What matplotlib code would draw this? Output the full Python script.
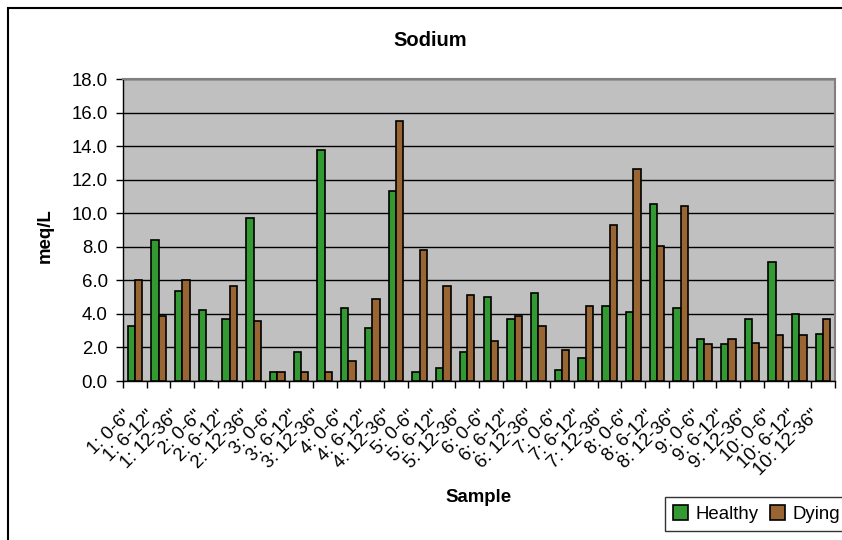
import matplotlib.pyplot as plt
import matplotlib.patches as mpatches
from matplotlib.transforms import ScaledTranslation
import numpy as np

plt.rcParams['font.family'] = ['Liberation Sans', 'DejaVu Sans']

# data
plots = ['1', '2', '3', '4', '5', '6', '7', '8', '9', '10']
depths = ['0-6"', '6-12"', '12-36"']
labels = [f'{p}: {d}' for p in plots for d in depths]

healthy = [3.26, 8.39, 5.34, 4.25, 3.70, 9.69, 0.53, 1.74, 13.75, 4.35,
           3.17, 11.34, 0.53, 0.75, 1.74, 5.00, 3.70, 5.22, 0.63, 1.40,
           4.47, 4.13, 10.56, 4.35, 2.51, 2.18, 3.70, 7.10, 4.02, 2.83]
dying = [6.01, 3.90, 6.01, 0.0, 5.68, 3.58, 0.53, 0.53, 0.53, 1.19,
         4.91, 15.47, 7.83, 5.68, 5.12, 2.39, 3.90, 3.26, 1.84, 4.47,
         9.28, 12.66, 8.05, 10.46, 2.18, 2.51, 2.27, 2.73, 2.73, 3.70]

green = '#339933'
brown = '#996633'
fs = 13.4

fig = plt.figure(figsize=(8.42, 5.4), dpi=100)
ax = fig.add_axes([123/842, 1 - 381/540, (835 - 123)/842, (381 - 79)/540])
ax.set_facecolor('#c0c0c0')

x = np.arange(len(labels))
w = 0.31
ax.bar(x - w/2, healthy, w, color=green, edgecolor='black', linewidth=1.2, label='Healthy', zorder=3)
ax.bar(x + w/2, dying, w, color=brown, edgecolor='black', linewidth=1.2, label='Dying', zorder=3)

ax.set_xlim(-0.5, len(labels) - 0.5)
ax.set_ylim(0, 18)
yt = np.arange(0, 18.1, 2)
ax.set_yticks(yt)
ax.set_yticklabels([f'{v:.1f}' for v in yt], fontsize=fs)
ax.yaxis.grid(True, color='black', linewidth=1, zorder=1)

ax.set_xticks(x)
ax.set_xticklabels(labels, rotation=45, ha='right', va='top', rotation_mode='anchor', fontsize=fs)
ax.tick_params(axis='x', length=0, pad=0)
shift = ScaledTranslation(-0.12, -0.26, fig.dpi_scale_trans)
for lab in ax.get_xticklabels():
    lab.set_transform(lab.get_transform() + shift)
ax.set_xticks(np.arange(-0.5, len(labels), 1), minor=True)
ax.tick_params(axis='x', which='minor', length=5, width=1, direction='out')
ax.tick_params(axis='y', length=5, width=1, direction='out', pad=6)

for s in ['top', 'right']:
    ax.spines[s].set_color('#808080')
    ax.spines[s].set_linewidth(1.5)
for s in ['left', 'bottom']:
    ax.spines[s].set_color('black')
    ax.spines[s].set_linewidth(1)

fig.text(45/842, 1 - 236/540, 'meq/L', rotation=90, ha='center', va='center', fontsize=fs, fontweight='bold')
fig.text(479/842, 1 - 498/540, 'Sample', ha='center', va='center', fontsize=fs, fontweight='bold')
fig.text(430/842, 1 - 40/540, 'Sodium', ha='center', va='center', fontsize=14.5, fontweight='bold')

leg = fig.legend(loc='upper left', bbox_to_anchor=(665/842, 1 - 497/540), ncol=2,
                 fontsize=fs, frameon=True, fancybox=False, edgecolor='black',
                 handlelength=0.8, handleheight=0.8, handletextpad=0.4, columnspacing=0.6,
                 borderpad=0.45, borderaxespad=0)
leg.get_frame().set_linewidth(1)

border = mpatches.Rectangle((8/842, -0.1), 1.2, 1 - 8/540 + 0.1, transform=fig.transFigure,
                            fill=False, edgecolor='black', linewidth=1.5)
fig.add_artist(border)

fig.savefig('out.png', dpi=100)
